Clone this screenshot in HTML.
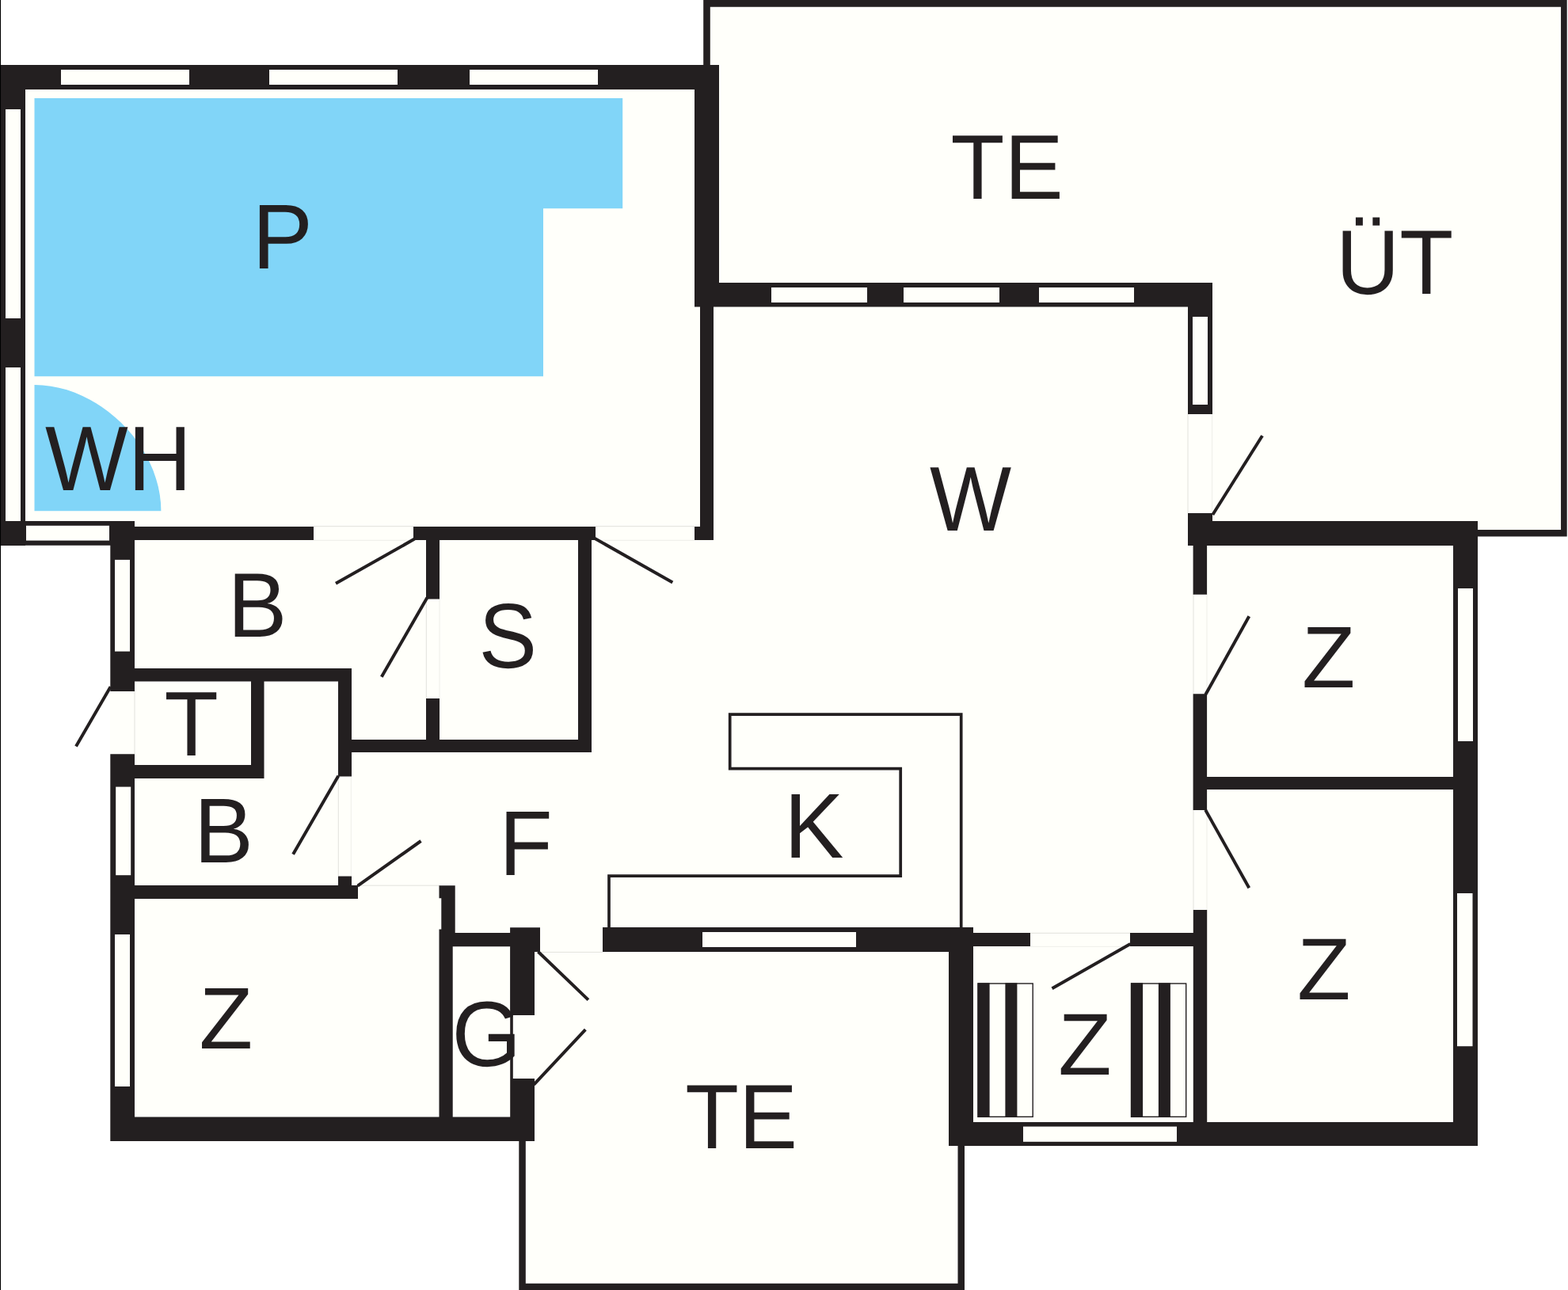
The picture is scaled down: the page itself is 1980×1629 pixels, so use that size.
<!DOCTYPE html>
<html lang="de"><head><meta charset="utf-8"><title>Grundriss</title>
<style>
html,body{margin:0;padding:0;background:#fff;}
body{width:1980px;height:1629px;overflow:hidden;}
svg{display:block;}
text{font-family:"Liberation Sans",Arial,Helvetica,sans-serif;fill:#231f20;font-kerning:none;text-rendering:geometricPrecision;}
</style></head><body>
<svg width="1980" height="1629" viewBox="0 0 1980 1629">
<rect width="1980" height="1629" fill="#ffffff"/>
<polygon fill="#fffffa" points="0,82 888,82 888,0 1978.7,0 1978.7,677 1866,677 1866,1447 1218,1447 1218,1629 656,1629 656,1440 139,1440 139,689 0,689"/>
<path fill="#81d5f8" d="M43.5,124 H786.2 V263.3 H686 V475.3 H43.5 Z"/>
<path fill="#81d5f8" d="M43.5,486 C125.4,486 203.4,563.7 203.4,645.3 H43.5 Z"/>
<g id="faint" stroke-width="1" fill="none">
<line x1="752" y1="664.6" x2="877" y2="664.6" stroke="#e2e2dd"/>
<line x1="752" y1="682.3" x2="877" y2="682.3" stroke="#eeeee9"/>
<line x1="396" y1="664.6" x2="522" y2="664.6" stroke="#e2e2dd"/>
<line x1="396" y1="682.3" x2="522" y2="682.3" stroke="#eeeee9"/>
<line x1="538.3" y1="756" x2="538.3" y2="882" stroke="#e2e2dd"/>
<line x1="555" y1="756" x2="555" y2="882" stroke="#eeeee9"/>
<line x1="427.3" y1="981" x2="427.3" y2="1106" stroke="#e2e2dd"/>
<line x1="443.3" y1="981" x2="443.3" y2="1106" stroke="#eeeee9"/>
<line x1="170" y1="873" x2="170" y2="952" stroke="#e2e2dd"/>
<line x1="1500" y1="523" x2="1500" y2="648" stroke="#e2e2dd"/>
<line x1="1530.6" y1="523" x2="1530.6" y2="648" stroke="#eeeee9"/>
<line x1="1507" y1="750" x2="1507" y2="876" stroke="#e2e2dd"/>
<line x1="1524" y1="750" x2="1524" y2="876" stroke="#eeeee9"/>
<line x1="1507" y1="1023" x2="1507" y2="1149" stroke="#e2e2dd"/>
<line x1="1524" y1="1023" x2="1524" y2="1149" stroke="#eeeee9"/>
<line x1="1301" y1="1178.3" x2="1427" y2="1178.3" stroke="#e2e2dd"/>
<line x1="1301" y1="1195.3" x2="1427" y2="1195.3" stroke="#eeeee9"/>
<line x1="452" y1="1118.2" x2="555" y2="1118.2" stroke="#e2e2dd"/>
<line x1="682" y1="1202.4" x2="761" y2="1202.4" stroke="#e2e2dd"/>
</g>
<path id="walls" fill="#231f20" d="M0 82H908V113H0Z M0 82H32V689H0Z M0 658H170V688.8H0Z M877 82H908V387H877Z M884 387H901V682H884Z M877 665H901V682H877Z M877 357H1531V387.5H877Z M1500 357H1531V523H1500Z M1500 648H1531V689H1500Z M1500 658H1866V689H1500Z M1835 658H1866V1447H1835Z M1198 1417H1866V1447.1H1198Z M1198 1171H1229V1447H1198Z M761 1171H1229V1202H761Z M1506.6 689H1524.1V750.8H1506.6Z M1506.6 876.3H1524.1V1023H1506.6Z M1506.8 1149H1524.2V1418H1506.8Z M1524 981H1835V997H1524Z M1229 1178H1301V1195H1229Z M1427 1178H1507V1195H1427Z M139.3 658H170V873H139.3Z M139.3 952.3H170V1441H139.3Z M139.3 1410.5H675V1441H139.3Z M170 665H396V682H170Z M522 665H752V682H522Z M538 682H555V756.4H538Z M538 882H555V934H538Z M730 682H747V950H730Z M443 934H747V950H443Z M170 844H443V860.5H170Z M427 844H444V980.5H427Z M427 1106.5H444V1118.6H427Z M317 860H333.5V983H317Z M170 966H333.5V983H170Z M170 1118H452V1135H170Z M554.5 1118.3H574.7V1134.2H554.5Z M557.3 1134.2H574.7V1178H557.3Z M554.5 1173.4H571.7V1411H554.5Z M565 1178.1H650V1195.3H565Z M644.1 1171.2H682V1202H644.1Z M644.1 1202H675V1282H644.1Z M644.2 1282H647.8V1362H644.2Z M644.2 1362H675V1441H644.2Z M888.2 0H1978.7V8.7H888.2Z M888.2 0H896.8V82.5H888.2Z M1971.05 0H1978.7V677.6H1971.05Z M1866 669.1H1978.7V677.6H1866Z M655.3 1440H663.8V1629H655.3Z M655.3 1620.8H1218V1629H655.3Z M1209.5 1447H1218V1629H1209.5Z"/>
<rect x="0" y="0" width="1.05" height="1629" fill="#000"/>
<g id="windows">
<rect x="77" y="88" width="162" height="19" fill="#fffffa"/>
<rect x="340" y="88" width="162" height="19" fill="#fffffa"/>
<rect x="593" y="88" width="162" height="19" fill="#fffffa"/>
<rect x="7" y="138" width="19" height="264" fill="#fffffa"/>
<rect x="7" y="464" width="19" height="194" fill="#fffffa"/>
<rect x="33" y="663.8" width="105" height="18.8" fill="#fffffa"/>
<rect x="974" y="363" width="121" height="19" fill="#fffffa"/>
<rect x="1141" y="363" width="121" height="19" fill="#fffffa"/>
<rect x="1312" y="363" width="120" height="19" fill="#fffffa"/>
<rect x="1506" y="400" width="19" height="111" fill="#fffffa"/>
<rect x="1841" y="743" width="19" height="193" fill="#fffffa"/>
<rect x="1840" y="1128" width="19.5" height="193.2" fill="#fffffa"/>
<rect x="1292" y="1422.6" width="194" height="19.2" fill="#fffffa"/>
<rect x="887" y="1177" width="194" height="19" fill="#fffffa"/>
<rect x="145" y="706.9" width="19" height="115.7" fill="#fffffa"/>
<rect x="146.2" y="993.6" width="19" height="111.6" fill="#fffffa"/>
<rect x="145" y="1180" width="19" height="192" fill="#fffffa"/>
</g>
<path fill="none" stroke="#231f20" stroke-width="3.7" stroke-linejoin="miter" d="M1213.7,1171 V902.2 H921.7 V970.6 H1137.2 V1106.1 H769 V1171"/>
<rect x="1235.1" y="1242" width="69.1" height="168.3" fill="#fffffa" stroke="#231f20" stroke-width="1.4"/>
<rect x="1234.4" y="1241.3" width="15.2" height="169.7" fill="#231f20"/>
<rect x="1269.4" y="1241.3" width="15" height="169.7" fill="#231f20"/>
<rect x="1428.6" y="1242" width="69.1" height="168.3" fill="#fffffa" stroke="#231f20" stroke-width="1.4"/>
<rect x="1427.9" y="1241.3" width="15.2" height="169.7" fill="#231f20"/>
<rect x="1462.9" y="1241.3" width="15" height="169.7" fill="#231f20"/>
<g stroke="#231f20" stroke-width="4" stroke-linecap="butt">
<line x1="1531.3" y1="650" x2="1594" y2="550.2"/>
<line x1="1522.2" y1="877.3" x2="1577.3" y2="778.3"/>
<line x1="1522.2" y1="1022.8" x2="1577.3" y2="1121.2"/>
<line x1="749" y1="678.8" x2="849.3" y2="735.4"/>
<line x1="523.5" y1="680.6" x2="424" y2="736.8"/>
<line x1="539.4" y1="754.7" x2="481.8" y2="854.7"/>
<line x1="427.3" y1="979.7" x2="370.1" y2="1078.7"/>
<line x1="451.6" y1="1118.7" x2="531.5" y2="1062"/>
<line x1="139.6" y1="867.3" x2="96" y2="942.6"/>
<line x1="679.5" y1="1201.7" x2="742.9" y2="1262.6"/>
<line x1="674.2" y1="1369.6" x2="739.3" y2="1300.2"/>
<line x1="1427.3" y1="1192" x2="1328.5" y2="1248.2"/>
</g>
<g id="labels">
<text font-size="100" transform="matrix(1.1127 0 0 1.1584 1200.50 251.10)">TE</text>
<text font-size="100" transform="matrix(1.1136 0 0 1.1541 1686.91 371.30)">ÜT</text>
<text font-size="100" transform="matrix(1.1461 0 0 1.1628 318.60 339.00)">P</text>
<text font-size="100" transform="matrix(1.1107 0 0 1.1584 57.01 619.00)">WH</text>
<text font-size="100" transform="matrix(1.0929 0 0 1.1584 1174.02 670.00)">W</text>
<text font-size="100" transform="matrix(1.1236 0 0 1.1555 287.48 804.10)">B</text>
<text font-size="100" transform="matrix(1.1030 0 0 1.1610 604.59 842.97)">S</text>
<text font-size="100" transform="matrix(1.1177 0 0 1.1584 207.39 953.50)">T</text>
<text font-size="100" transform="matrix(1.1217 0 0 1.1628 245.00 1089.20)">B</text>
<text font-size="100" transform="matrix(1.0987 0 0 1.1628 630.39 1104.90)">F</text>
<text font-size="100" transform="matrix(1.1277 0 0 1.1628 990.15 1082.90)">K</text>
<text font-size="100" transform="matrix(1.1025 0 0 1.1047 1643.90 868.20)">Z</text>
<text font-size="100" transform="matrix(1.1043 0 0 1.1076 1637.90 1262.30)">Z</text>
<text font-size="100" transform="matrix(1.1025 0 0 1.1076 1336.20 1356.80)">Z</text>
<text font-size="100" transform="matrix(1.1080 0 0 1.1047 251.38 1324.00)">Z</text>
<text font-size="100" transform="matrix(1.1259 0 0 1.1667 570.44 1345.86)">G</text>
<text font-size="100" transform="matrix(1.1085 0 0 1.1570 865.21 1449.80)">TE</text>
</g>
</svg></body></html>
